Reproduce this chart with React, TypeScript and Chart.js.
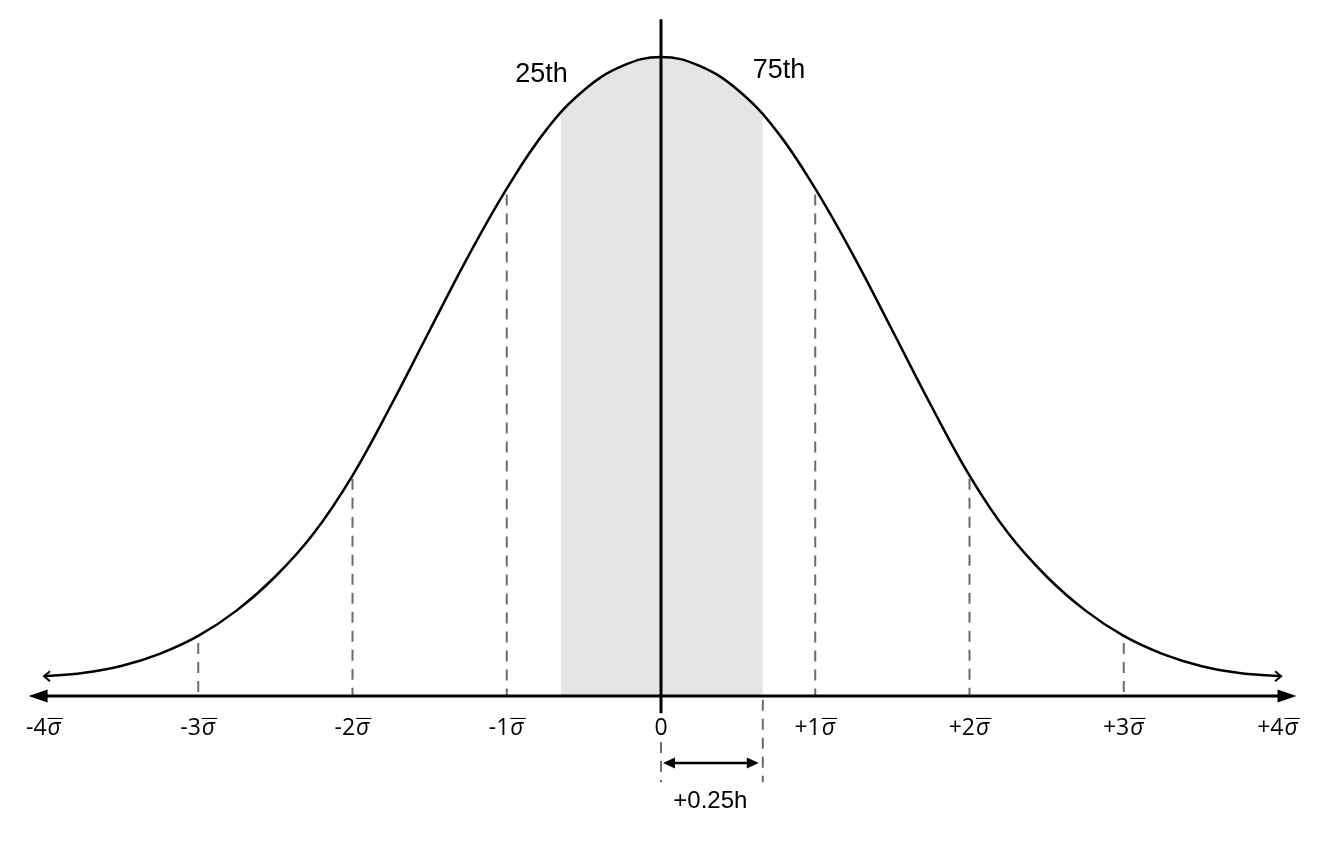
import { useEffect, useRef } from "react";
import { Chart, registerables } from "chart.js";

Chart.register(...registerables);

// Bell curve (x in sigma units, y as fraction of peak height)
const CURVE_X = [-4, -3.75, -3.5, -3.25, -3, -2.75, -2.5, -2.25, -2, -1.75, -1.5, -1.25, -1, -0.75, -0.5, -0.25, 0, 0.25, 0.5, 0.75, 1, 1.25, 1.5, 1.75, 2, 2.25, 2.5, 2.75, 3, 3.25, 3.5, 3.75, 4.02];
const CURVE_Y = [0.031, 0.036, 0.047, 0.066, 0.094, 0.134, 0.187, 0.255, 0.345, 0.455, 0.572, 0.688, 0.794, 0.884, 0.948, 0.986, 1.0, 0.986, 0.948, 0.884, 0.794, 0.688, 0.572, 0.455, 0.345, 0.255, 0.187, 0.134, 0.094, 0.066, 0.047, 0.036, 0.031];

// Shaded interquartile band (25th..75th)
const SHADE_X = [-0.65, -0.5, -0.25, 0, 0.25, 0.5, 0.66];
const SHADE_Y = [0.913, 0.948, 0.986, 1.0, 0.986, 0.948, 0.911];

// Dashed sigma guides
const SIGMA_POS = [-3, -2, -1, 1, 2, 3];
const SIGMA_TOP = [0.083, 0.34, 0.785, 0.785, 0.34, 0.083];

// Axis tick labels
const TICK_VALUES = [-4, -3, -2, -1, 0, 1, 2, 3, 4];
const TICK_PREFIX = ["-4", "-3", "-2", "-1", "0", "+1", "+2", "+3", "+4"];
const TICK_SIGMA = [true, true, true, true, false, true, true, true, true];
const TICK_BASELINE = -0.061;

// Center line and axis extent
const CENTER_LINE_Y = [-0.027, 1.059];
const AXIS_RANGE = [-4.1, 4.12];

// Percentile labels
const PCT_TEXT = ["25th", "75th"];
const PCT_X = [-0.775, 0.765];
const PCT_Y = [0.961, 0.967];

// +0.25h bracket below axis
const SPAN_X = [0, 0.66];
const SPAN_DASH_TOP = [-0.072, -0.006];
const SPAN_DASH_BOTTOM = -0.135;
const SPAN_ARROW_Y = -0.105;
const SPAN_TEXT = "+0.25h";
const SPAN_TEXT_X = 0.32;
const SPAN_TEXT_Y = -0.175;

const DASH_COLOR = "#6b6b6b";

export default function App() {
  const ref = useRef<HTMLCanvasElement | null>(null);

  useEffect(() => {
    if (!ref.current) return;

    const datasets: any[] = [];
    datasets.push({
      data: CENTER_LINE_Y.map((v) => ({ x: 0, y: v })),
      borderColor: "#000",
      borderWidth: 3,
      pointRadius: 0,
      clip: false,
    });
    datasets.push({
      data: CURVE_X.map((v, i) => ({ x: v, y: CURVE_Y[i] })),
      borderColor: "#000",
      borderWidth: 2.5,
      pointRadius: 0,
      tension: 0.4,
      clip: false,
    });
    SIGMA_POS.forEach((p, i) => {
      datasets.push({
        data: [
          { x: p, y: SIGMA_TOP[i] },
          { x: p, y: 0 },
        ],
        borderColor: DASH_COLOR,
        borderWidth: 2,
        borderDash: [11, 8],
        pointRadius: 0,
        clip: false,
      });
    });
    SPAN_X.forEach((p, i) => {
      datasets.push({
        data: [
          { x: p, y: SPAN_DASH_TOP[i] },
          { x: p, y: SPAN_DASH_BOTTOM },
        ],
        borderColor: DASH_COLOR,
        borderWidth: 2,
        borderDash: [11, 8],
        pointRadius: 0,
        clip: false,
      });
    });
    datasets.push({
      data: SHADE_X.map((v, i) => ({ x: v, y: SHADE_Y[i] })),
      borderWidth: 0,
      borderColor: "rgba(0,0,0,0)",
      backgroundColor: "#e5e5e5",
      fill: "origin",
      pointRadius: 0,
      tension: 0.4,
    });

    const overlay = {
      id: "overlay",
      afterDatasetsDraw(chart: any) {
        const ctx = chart.ctx as CanvasRenderingContext2D;
        const xs = chart.scales.x;
        const ys = chart.scales.y;
        const px = (v: number) => xs.getPixelForValue(v);
        const py = (v: number) => ys.getPixelForValue(v);
        ctx.save();

        const tri = (tx: number, ty: number, dir: number, len: number, half: number) => {
          ctx.beginPath();
          ctx.moveTo(tx, ty);
          ctx.lineTo(tx - dir * len, ty - half);
          ctx.lineTo(tx - dir * len, ty + half);
          ctx.closePath();
          ctx.fill();
        };

        // main axis with arrowheads
        const y0 = py(0);
        const xl = px(AXIS_RANGE[0]);
        const xr = px(AXIS_RANGE[1]);
        ctx.strokeStyle = "#000";
        ctx.fillStyle = "#000";
        ctx.lineWidth = 3;
        ctx.beginPath();
        ctx.moveTo(xl + 12, y0);
        ctx.lineTo(xr - 12, y0);
        ctx.stroke();
        tri(xl, y0, -1, 19, 6.5);
        tri(xr, y0, 1, 19, 6.5);

        // curve-end chevrons
        ctx.lineWidth = 2;
        const n = CURVE_X.length;
        const lx = px(CURVE_X[0]);
        const ly = py(CURVE_Y[0]);
        const rx = px(CURVE_X[n - 1]);
        const ry = py(CURVE_Y[n - 1]);
        ctx.beginPath();
        ctx.moveTo(lx + 6, ly - 5);
        ctx.lineTo(lx, ly);
        ctx.lineTo(lx + 6, ly + 5);
        ctx.moveTo(rx - 6, ry - 5);
        ctx.lineTo(rx, ry);
        ctx.lineTo(rx - 6, ry + 5);
        ctx.stroke();

        // double arrow below axis
        const ay = py(SPAN_ARROW_Y);
        const a0 = px(SPAN_X[0]) + 2;
        const a1 = px(SPAN_X[1]) - 4;
        ctx.lineWidth = 2.5;
        ctx.beginPath();
        ctx.moveTo(a0 + 8, ay);
        ctx.lineTo(a1 - 8, ay);
        ctx.stroke();
        tri(a0, ay, -1, 12, 5.5);
        tri(a1, ay, 1, 12, 5.5);

        // tick labels
        const baseFont = '23px "Open Sans"';
        const sigFont = 'italic 23px "Open Sans"';
        ctx.textBaseline = "alphabetic";
        ctx.textAlign = "left";
        const tb = py(TICK_BASELINE);
        TICK_VALUES.forEach((v, i) => {
          const cx = px(v);
          ctx.font = baseFont;
          const w1 = ctx.measureText(TICK_PREFIX[i]).width;
          let w2 = 0;
          if (TICK_SIGMA[i]) {
            ctx.font = sigFont;
            w2 = ctx.measureText("σ").width + 2;
          }
          const sx = cx - (w1 + w2) / 2;
          ctx.font = baseFont;
          ctx.fillText(TICK_PREFIX[i], sx, tb);
          if (TICK_SIGMA[i]) {
            ctx.font = sigFont;
            ctx.fillText("σ", sx + w1 + 1, tb);
            ctx.lineWidth = 1.1;
            ctx.beginPath();
            ctx.moveTo(sx + w1 + 1, tb - 16.5);
            ctx.lineTo(sx + w1 + w2 + 1, tb - 16.5);
            ctx.stroke();
          }
        });

        // percentile labels
        ctx.font = '27px "Liberation Sans", Arial, sans-serif';
        ctx.textAlign = "center";
        PCT_TEXT.forEach((t, i) => {
          ctx.fillText(t, px(PCT_X[i]), py(PCT_Y[i]));
        });

        // span label
        ctx.font = '24px "Liberation Sans", Arial, sans-serif';
        ctx.fillText(SPAN_TEXT, px(SPAN_TEXT_X), py(SPAN_TEXT_Y));

        ctx.restore();
      },
    };

    const chart = new Chart(ref.current, {
      type: "line",
      data: { datasets },
      options: {
        animation: false,
        responsive: false,
        devicePixelRatio: 1,
        layout: { padding: { left: 44, right: 42, top: 57, bottom: 156 } },
        plugins: {
          legend: { display: false },
          tooltip: { enabled: false },
        },
        scales: {
          x: { type: "linear", min: -4, max: 4, display: false },
          y: { type: "linear", min: 0, max: 1, display: false },
        },
      } as any,
      plugins: [overlay],
    });

    return () => chart.destroy();
  }, []);

  return (
    <div style={{ position: "absolute", left: 0, top: 0, width: 1320, height: 852, background: "#fff" }}>
      <canvas ref={ref} width={1320} height={852} style={{ display: "block" }} />
    </div>
  );
}
